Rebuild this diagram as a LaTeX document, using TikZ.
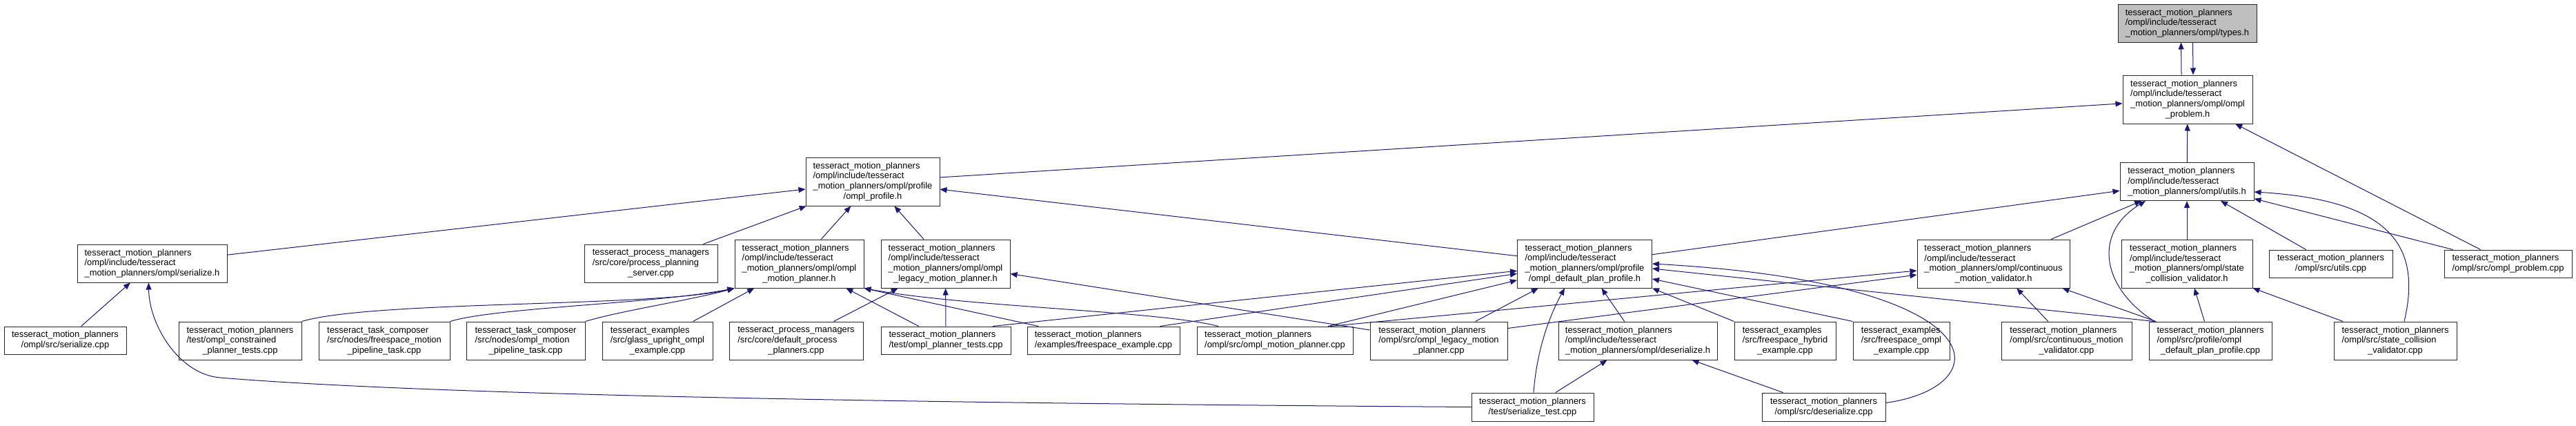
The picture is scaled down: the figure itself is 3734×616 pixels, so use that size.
\documentclass[tikz,border=0pt]{standalone}
\usepackage{fontspec}
\setmainfont{Liberation Sans}
\usepackage[svgnames]{xcolor}
\usetikzlibrary{arrows.meta}
\tikzset{file/.style = {draw=black!85, line width=1pt, rectangle, align=left, inner sep=0,
    font=\fontsize{12.9}{14.7}\selectfont}}
\tikzset{dep/.style = {MidnightBlue, line width=1pt, -{Triangle[length=10pt, width=8pt]}}}
\newcommand{\ctrline}[1]{\hspace*{\fill}#1\hspace*{\fill}}
\newcommand{\incdir}{tesseract\_motion\_planners\\/ompl/include/tesseract\\\_motion\_planners/ompl/}

\begin{document}
\begin{tikzpicture}[x=1pt, y=-1pt]
      \useasboundingbox (0,0) rectangle (3734,616);
      \node[file, fill=black!25, minimum width=201, minimum height=55] (types) at (3170.5,33.5) {\incdir types.h};
      \node[file, minimum width=188, minimum height=70] (problem) at (3171,144) {\incdir ompl\\\ctrline{\_problem.h}};
      \node[file, minimum width=194, minimum height=70] (profile) at (1265,263) {\incdir profile\\\ctrline{/ompl\_profile.h}};
      \node[file, minimum width=194, minimum height=55] (utils) at (3170,263) {\incdir utils.h};
      \node[file, minimum width=217, minimum height=55] (serh) at (220.5,381.5) {\incdir serialize.h};
      \node[file, minimum width=193, minimum height=55] (pps) at (943.5,381.5) {tesseract\_process\_managers\\/src/core/process\_planning\\\ctrline{\_server.cpp}};
      \node[file, minimum width=187, minimum height=70] (mph) at (1158.5,382) {\incdir ompl\\\ctrline{\_motion\_planner.h}};
      \node[file, minimum width=187, minimum height=70] (lmph) at (1370.5,382) {\incdir ompl\\\ctrline{\_legacy\_motion\_planner.h}};
      \node[file, minimum width=195, minimum height=70] (dpph) at (2297,382) {\incdir profile\\\ctrline{/ompl\_default\_plan\_profile.h}};
      \node[file, minimum width=221, minimum height=70] (cmvh) at (2889.5,382) {\incdir continuous\\\ctrline{\_motion\_validator.h}};
      \node[file, minimum width=190, minimum height=70] (scvh) at (3170,382) {\incdir state\\\ctrline{\_collision\_validator.h}};
      \node[file, minimum width=179, minimum height=40] (utilscpp) at (3378.5,382) {tesseract\_motion\_planners\\\ctrline{/ompl/src/utils.cpp}};
      \node[file, minimum width=185, minimum height=40] (problemcpp) at (3635.5,382) {tesseract\_motion\_planners\\\ctrline{/ompl/src/ompl\_problem.cpp}};
      \node[file, minimum width=177, minimum height=40] (sercpp) at (94.5,493) {tesseract\_motion\_planners\\\ctrline{/ompl/src/serialize.cpp}};
      \node[file, minimum width=178, minimum height=55] (cptcpp) at (348,493.5) {tesseract\_motion\_planners\\/test/ompl\_constrained\\\ctrline{\_planner\_tests.cpp}};
      \node[file, minimum width=190, minimum height=55] (fmptcpp) at (557,493.5) {tesseract\_task\_composer\\/src/nodes/freespace\_motion\\\ctrline{\_pipeline\_task.cpp}};
      \node[file, minimum width=172, minimum height=55] (omptcpp) at (762,493.5) {tesseract\_task\_composer\\/src/nodes/ompl\_motion\\\ctrline{\_pipeline\_task.cpp}};
      \node[file, minimum width=160, minimum height=55] (glasscpp) at (953,493.5) {tesseract\_examples\\/src/glass\_upright\_ompl\\\ctrline{\_example.cpp}};
      \node[file, minimum width=194, minimum height=55] (dppcpp) at (1154,493.5) {tesseract\_process\_managers\\/src/core/default\_process\\\ctrline{\_planners.cpp}};
      \node[file, minimum width=188, minimum height=40] (optcpp) at (1371,493) {tesseract\_motion\_planners\\/test/ompl\_planner\_tests.cpp};
      \node[file, minimum width=221, minimum height=40] (fsecpp) at (1599.5,493) {tesseract\_motion\_planners\\/examples/freespace\_example.cpp};
      \node[file, minimum width=226, minimum height=40] (ompcpp) at (1848,493) {tesseract\_motion\_planners\\/ompl/src/ompl\_motion\_planner.cpp};
      \node[file, minimum width=199, minimum height=55] (olmpcpp) at (2085.5,493.5) {tesseract\_motion\_planners\\/ompl/src/ompl\_legacy\_motion\\\ctrline{\_planner.cpp}};
      \node[file, minimum width=230, minimum height=55] (deserh) at (2374,493.5) {\incdir deserialize.h};
      \node[file, minimum width=147, minimum height=55] (fshcpp) at (2587.5,493.5) {tesseract\_examples\\/src/freespace\_hybrid\\\ctrline{\_example.cpp}};
      \node[file, minimum width=140, minimum height=55] (fsocpp) at (2756,493.5) {tesseract\_examples\\/src/freespace\_ompl\\\ctrline{\_example.cpp}};
      \node[file, minimum width=189, minimum height=55] (cmvcpp) at (2995.5,493.5) {tesseract\_motion\_planners\\/ompl/src/continuous\_motion\\\ctrline{\_validator.cpp}};
      \node[file, minimum width=178, minimum height=55] (dppsrc) at (3204,493.5) {tesseract\_motion\_planners\\/ompl/src/profile/ompl\\\ctrline{\_default\_plan\_profile.cpp}};
      \node[file, minimum width=178, minimum height=55] (scvcpp) at (3472,493.5) {tesseract\_motion\_planners\\/ompl/src/state\_collision\\\ctrline{\_validator.cpp}};
      \node[file, minimum width=177, minimum height=41] (stest) at (2221.5,589.5) {tesseract\_motion\_planners\\\ctrline{/test/serialize\_test.cpp}};
      \node[file, minimum width=179, minimum height=41] (desercpp) at (2643.5,589.5) {tesseract\_motion\_planners\\\ctrline{/ompl/src/deserialize.cpp}};
      \draw[dep] ([xshift=-9]problem.north) -- ([xshift=-9]types.south);
      \draw[dep] ([xshift=8]types.south) -- ([xshift=8]problem.north);
      \draw[dep] (profile) -- (problem);
      \draw[dep] (utils) -- (problem);
      \draw[dep] (problemcpp) -- (problem);
      \draw[dep] (serh) -- (profile);
      \draw[dep] (pps) -- (profile);
      \draw[dep] (mph) -- (profile);
      \draw[dep] (lmph) -- (profile);
      \draw[dep] (dpph) -- (profile);
      \draw[dep] (dpph) -- (utils);
      \draw[dep] (cmvh) -- (utils);
      \draw[dep] ([xshift=-81]dppsrc.north) .. controls (3050,420) and (3030,340) .. ([xshift=-60]utils.south);
      \draw[dep] (scvh) -- (utils);
      \draw[dep] (utilscpp) -- (utils);
      \draw[dep] (problemcpp) -- (utils);
      \draw[dep] ([xshift=13]scvcpp.north) .. controls (3510,360) and (3470,290) .. ([yshift=-15]utils.east);
      \draw[dep] (sercpp) -- (serh);
      \draw[dep] (stest.west) .. controls (1200,583) and (600,570) .. (319,547) .. controls (259,542) and (216,470) .. ([xshift=-5]serh.south);
      \draw[dep] (cptcpp.north east) .. controls (540,435) and (950,445) .. (mph.south west);
      \draw[dep] (fmptcpp.north east) .. controls (720,445) and (950,440) .. (mph.south west);
      \draw[dep] (omptcpp.north east) .. controls (900,450) and (1000,435) .. (mph.south west);
      \draw[dep] (glasscpp) -- (mph);
      \draw[dep] (optcpp) -- (mph);
      \draw[dep] (fsecpp) -- (mph.south east);
      \draw[dep] ([xshift=-82]ompcpp.north) .. controls (1680,450) and (1400,445) .. (mph.south east);
      \draw[dep] (dppcpp) -- (lmph);
      \draw[dep] (optcpp) -- (lmph);
      \draw[dep] (olmpcpp) -- (lmph);
      \draw[dep] ([xshift=68]optcpp.north) -- (dpph);
      \draw[dep] ([xshift=82]fsecpp.north) -- (dpph);
      \draw[dep] ([xshift=77]ompcpp.north) -- (dpph);
      \draw[dep] ([xshift=80]ompcpp.north) -- ([yshift=-10]cmvh.west);
      \draw[dep] ([yshift=18]olmpcpp.east) -- ([yshift=-16]cmvh.west);
      \draw[dep] (dppsrc) -- (cmvh);
      \draw[dep] (cmvcpp) -- (cmvh);
      \draw[dep] (dppsrc) -- (scvh);
      \draw[dep] (scvcpp) -- (scvh);
      \draw[dep] ([xshift=-81]dppsrc.north) -- ([yshift=-7]dpph.east);
      \draw[dep] ([yshift=6]desercpp.east) .. controls (2900,560) and (2900,410) .. (dpph.east);
      \draw[dep] (fsocpp.north west) -- ([yshift=-22]dpph.east);
      \draw[dep] (fshcpp.north west) -- (dpph.south east);
      \draw[dep] (olmpcpp) -- (dpph);
      \draw[dep] ([xshift=1.5]stest.north) .. controls (2228,500) and (2250,450) .. ([xshift=-29]dpph.south);
      \draw[dep] (stest) -- (deserh);
      \draw[dep] (deserh) -- (dpph);
      \draw[dep] (desercpp) -- (deserh);
\end{tikzpicture}
\end{document}
